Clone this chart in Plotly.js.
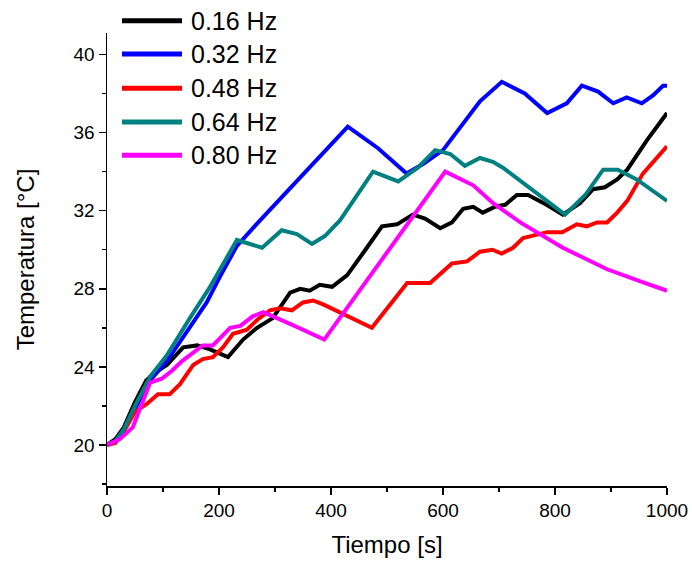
<!DOCTYPE html>
<html>
<head>
<meta charset="utf-8">
<script src="https://cdn.plot.ly/plotly-3.0.1.min.js"></script>
<style>html,body{margin:0;padding:0;background:#fff;}#chart{width:692px;height:566px;}</style>
</head>
<body>
<div id="chart"></div>
<script>
const seriesNames = ["0.16 Hz", "0.32 Hz", "0.48 Hz", "0.64 Hz", "0.80 Hz"];
const seriesColors = ["#000000", "#0000ff", "#ff0000", "#008080", "#ff00ff"];

const t016 = [0,15,30,50,70,85,107,136,161,184,216,243,268,296,327,345,362,380,402,429,464,491,518,546,568,595,616,636,654,671,693,711,732,752,779,814,845,868,889,911,929,964,1000];
const y016 = [20,20.3,20.9,22.2,23.3,23.7,24.1,25.0,25.1,24.9,24.5,25.4,26.0,26.5,27.8,28.0,27.9,28.2,28.1,28.7,30.1,31.2,31.3,31.8,31.6,31.1,31.4,32.1,32.2,31.9,32.2,32.3,32.8,32.8,32.4,31.8,32.4,33.1,33.2,33.6,34.1,35.6,37.0];

const t032 = [0,15,30,50,77,107,136,178,205,232,270,309,350,390,430,484,535,565,600,666,705,746,786,821,848,877,904,928,955,975,993,1000];
const y032 = [20,20.2,20.8,21.9,23.3,24.3,25.5,27.3,28.8,30.2,31.4,32.6,33.9,35.1,36.3,35.2,33.9,34.4,35.1,37.6,38.6,38.0,37.0,37.5,38.4,38.1,37.5,37.8,37.5,37.9,38.4,38.4];

const t048 = [0,15,30,50,71,91,112,130,154,171,189,207,225,250,268,291,309,330,350,368,386,429,473,536,577,616,643,666,688,705,725,743,768,786,813,839,857,875,893,911,929,957,1000];
const y048 = [20,20.1,20.7,21.7,22.1,22.6,22.6,23.1,24.1,24.4,24.5,25.0,25.7,25.9,26.4,26.9,27.0,26.9,27.3,27.4,27.2,26.6,26.0,28.3,28.3,29.3,29.4,29.9,30.0,29.8,30.1,30.6,30.8,30.9,30.9,31.3,31.2,31.4,31.4,31.9,32.5,33.9,35.3];

const t064 = [0,15,30,50,77,107,148,184,210,232,277,312,339,366,389,416,475,520,555,586,613,639,666,689,707,818,854,886,912,946,1000];
const y064 = [20,20.2,20.8,22.0,23.5,24.6,26.5,28.1,29.4,30.5,30.1,31.0,30.8,30.3,30.7,31.5,34.0,33.5,34.2,35.1,34.9,34.3,34.7,34.5,34.2,31.8,32.8,34.1,34.1,33.6,32.5];

const t080 = [0,23,46,77,98,116,134,157,171,189,220,238,261,279,296,327,388,604,654,689,738,814,850,893,950,1000];
const y080 = [20,20.3,20.9,23.2,23.4,23.8,24.3,24.8,25.1,25.1,26.0,26.1,26.6,26.8,26.6,26.2,25.4,34.0,33.3,32.4,31.4,30.1,29.6,29.0,28.4,27.9];

const xs = [t016, t032, t048, t064, t080];
const ys = [y016, y032, y048, y064, y080];

const xTicks = [0, 200, 400, 600, 800, 1000];
const yTicks = [20, 24, 28, 32, 36, 40];

const W = 692, H = 566;
const M = {l: 107, r: 25, t: 33, b: 80};
const plotW = W - M.l - M.r, plotH = H - M.t - M.b;

const traces = seriesNames.map((n, i) => ({
  x: xs[i], y: ys[i], name: n, type: 'scatter', mode: 'lines',
  line: {color: seriesColors[i], width: 4, shape: 'linear'},
  showlegend: false
}));

// custom legend (pixel positions converted to paper coords)
const legRowsPx = [20.7, 54, 88.3, 122, 155.3];
const px2x = p => (p - M.l) / plotW;
const py2y = p => (H - M.b - p) / plotH;
const shapes = [];
const annotations = [];
seriesNames.forEach((n, i) => {
  shapes.push({type: 'line', xref: 'paper', yref: 'paper',
    x0: px2x(122), x1: px2x(182), y0: py2y(legRowsPx[i]), y1: py2y(legRowsPx[i]),
    line: {color: seriesColors[i], width: 5}});
  annotations.push({xref: 'paper', yref: 'paper', x: px2x(189), y: py2y(legRowsPx[i]),
    xanchor: 'left', yanchor: 'middle', showarrow: false, text: n,
    font: {family: 'Liberation Sans, Arial, sans-serif', size: 25, color: '#000'}});
});

const font = {family: 'Liberation Sans, Arial, sans-serif', color: '#000'};
const layout = {
  width: W, height: H,
  margin: M,
  paper_bgcolor: '#fff', plot_bgcolor: '#fff',
  showlegend: false,
  xaxis: {
    range: [0, 1000], tickvals: xTicks, ticktext: xTicks.map(String),
    showgrid: false, zeroline: false, showline: true, linecolor: '#000', linewidth: 1.5,
    ticks: 'outside', ticklen: 7, tickwidth: 1.5, tickcolor: '#000',
    minor: {dtick: 100, tick0: 0, ticks: 'outside', ticklen: 4, tickwidth: 1.5, tickcolor: '#000'},
    tickfont: Object.assign({size: 19}, font),
    title: {text: 'Tiempo [s]', font: Object.assign({size: 24}, font), standoff: 16}
  },
  yaxis: {
    range: [17.9, 41.1], tickvals: yTicks, ticktext: yTicks.map(String),
    showgrid: false, zeroline: false, showline: true, linecolor: '#000', linewidth: 1.5,
    ticks: 'outside', ticklen: 7, tickwidth: 1.5, tickcolor: '#000',
    minor: {dtick: 2, tick0: 0, ticks: 'outside', ticklen: 4, tickwidth: 1.5, tickcolor: '#000'},
    tickfont: Object.assign({size: 19}, font),
    title: {text: 'Temperatura [°C]', font: Object.assign({size: 24}, font), standoff: 32}
  },
  shapes: shapes,
  annotations: annotations
};

Plotly.newPlot('chart', traces, layout, {displayModeBar: false, staticPlot: true});
</script>
</body>
</html>
